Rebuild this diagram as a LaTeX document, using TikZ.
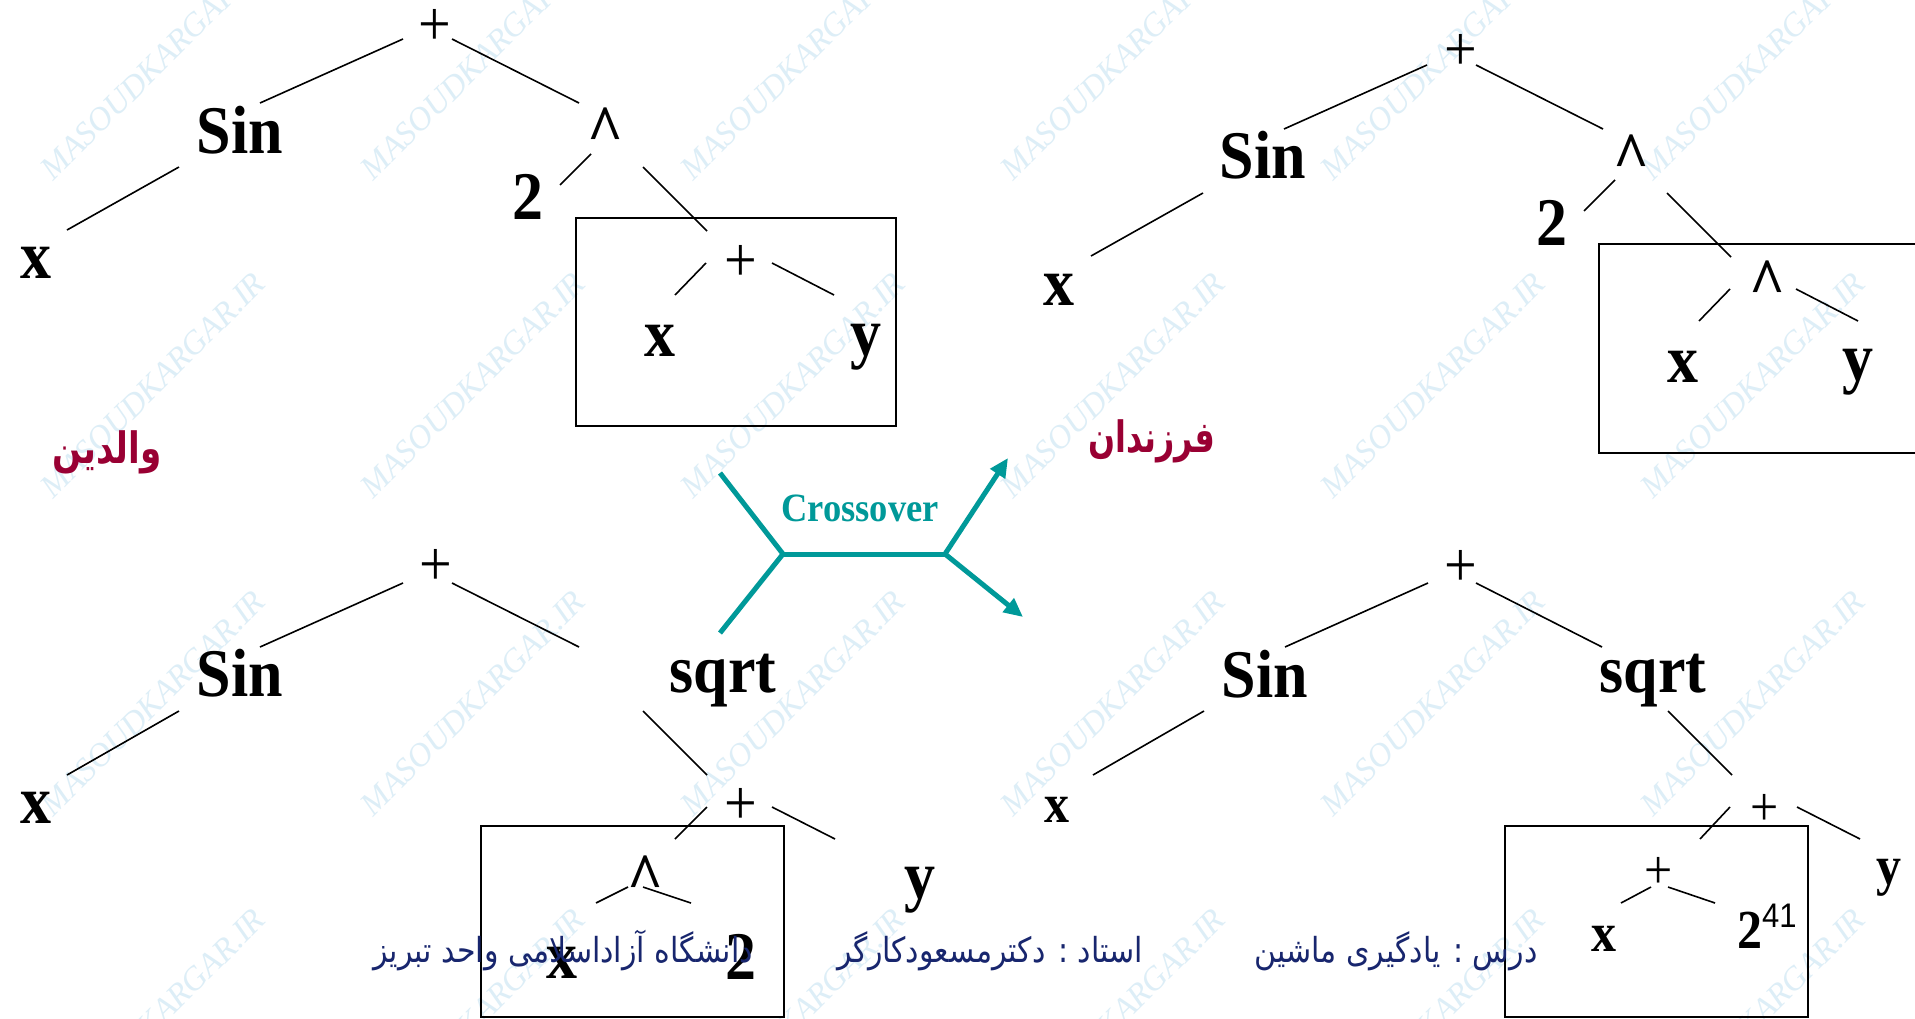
\documentclass[tikz,border=0pt]{standalone}
\usepackage{fontspec}
\usepackage{graphicx}
\setmainfont{Liberation Serif}
\newfontfamily\arabicfont[Script=Arabic]{DejaVu Sans}
\newfontfamily\supfont{Liberation Sans}
\TeXXeTstate=1
\usetikzlibrary{arrows.meta}
\definecolor{crossteal}{RGB}{0,153,153}
\definecolor{labelred}{RGB}{153,0,51}
\definecolor{footblue}{RGB}{24,38,110}
\definecolor{wmblue}{RGB}{221,238,247}
\newcommand\vs[1]{\scalebox{1}[1.1]{#1}}
\newcommand\fsz[1]{\fontsize{#1}{#1}\selectfont}
\newcommand\tedge[4]{\draw[treeedge] ([shift={#2}]#1.center) -- ([shift={#4}]#3.center);}
\tikzset{
  lbl/.style={inner sep=0pt, font=\fsz{62}\bfseries},
  lblsm/.style={inner sep=0pt, font=\fsz{50}\bfseries},
  opp/.style={inner sep=0pt, font=\fsz{58}},
  oppsm/.style={inner sep=0pt, font=\fsz{50}},
  treeedge/.style={line width=1.6pt, black},
  subbox/.style={line width=2.4pt, black},
  cross/.style={line width=5pt, crossteal},
  wm/.style={rotate=45, text=wmblue, font=\fsz{33}\itshape, inner sep=0pt},
  falbl/.style={inner sep=0pt, text=labelred, font=\arabicfont\fsz{36}\bfseries},
  foot/.style={inner sep=0pt, text=footblue, font=\arabicfont\fsz{30}},
}
\begin{document}
\begin{tikzpicture}[x=1pt,y=-1pt]
\useasboundingbox (0,0) rectangle (1915,1018);
\clip (0,0) rectangle (1915,1018);
\fill[white] (0,0) rectangle (1915,1018);
% watermark
\foreach \wx in {153,473,793,1113,1433,1753}{
  \foreach \wy in {67,385,703,1021}{
    \node[wm] (wm-\wx-\wy) at (\wx,\wy) {MASOUDKARGAR.IR};
  }
}
% ---------- Tree A (top left)
\node[opp] (A0) at (435,27) {\vs{+}};
\node[lbl] (A1) at (240,130) {\vs{Sin}};
\node[lbl] (A2) at (36,263) {\vs{x}};
\node[lbl] (A3) at (606,130) {\vs{\textasciicircum}};
\node[lbl] (A4) at (528,197) {\vs{2}};
\node[opp] (A5) at (741,263) {\vs{+}};
\node[lbl] (A6) at (660,341) {\vs{x}};
\node[lbl] (A7) at (866,347) {\vs{y}};
\draw[subbox] (576,218) rectangle (896,426);
\tedge{A0}{(-32,12)}{A1}{(20,-27)}
\tedge{A0}{(17,12)}{A3}{(-27,-27)}
\tedge{A1}{(-61,37)}{A2}{(31,-33)}
\tedge{A3}{(-15,24)}{A4}{(32,-12)}
\tedge{A3}{(37,37)}{A5}{(-34,-32)}
\tedge{A5}{(-35,0)}{A6}{(15,-46)}
\tedge{A5}{(31,0)}{A7}{(-32,-52)}
% ---------- Tree B (top right)
\node[opp] (B0) at (1461,52) {\vs{+}};
\node[lbl] (B1) at (1263,155) {\vs{Sin}};
\node[lbl] (B2) at (1059,290) {\vs{x}};
\node[lbl] (B3) at (1631,157) {\vs{\textasciicircum}};
\node[lbl] (B4) at (1552,223) {\vs{2}};
\node[lbl] (B5) at (1767,283) {\vs{\textasciicircum}};
\node[lbl] (B6) at (1683,367) {\vs{x}};
\node[lbl] (B7) at (1858,372) {\vs{y}};
\draw[subbox] (1599,244) rectangle (1930,453);
\tedge{B0}{(-34,13)}{B1}{(21,-26)}
\tedge{B0}{(15,13)}{B3}{(-28,-28)}
\tedge{B1}{(-60,38)}{B2}{(32,-34)}
\tedge{B3}{(-16,23)}{B4}{(32,-12)}
\tedge{B3}{(36,36)}{B5}{(-36,-26)}
\tedge{B5}{(-37,6)}{B6}{(16,-46)}
\tedge{B5}{(29,6)}{B7}{(0,-51)}
% ---------- Tree C (bottom left)
\node[opp] (C0) at (436,567) {\vs{+}};
\node[lbl] (C1) at (240,673) {\vs{Sin}};
\node[lbl] (C2) at (36,808) {\vs{x}};
\node[lbl] (C3) at (723,681) {\vs{sqrt}};
\node[opp] (C4) at (741,806) {\vs{+}};
\node[lbl] (C5) at (646,878) {\vs{\textasciicircum}};
\node[lbl] (C6) at (562,963) {\vs{x}};
\node[lbl] (C7) at (741,957) {\vs{2}};
\node[lbl] (C8) at (920,890) {\vs{y}};
\draw[subbox] (481,826) rectangle (784,1017);
\tedge{C0}{(-33,16)}{C1}{(20,-26)}
\tedge{C0}{(16,16)}{C3}{(-144,-34)}
\tedge{C1}{(-61,38)}{C2}{(31,-33)}
\tedge{C3}{(-80,30)}{C4}{(-34,-31)}
\tedge{C4}{(-34,1)}{C5}{(29,-39)}
\tedge{C4}{(31,1)}{C8}{(-85,-51)}
\tedge{C5}{(-18,9)}{C6}{(34,-60)}
\tedge{C5}{(-3,9)}{C7}{(-50,-54)}
% ---------- Tree D (bottom right)
\node[opp] (D0) at (1461,568) {\vs{+}};
\node[lbl] (D1) at (1265,674) {\vs{Sin}};
\node[lblsm] (D2) at (1057,810) {\vs{x}};
\node[lbl] (D3) at (1653,681) {\vs{sqrt}};
\node[oppsm] (D4) at (1765,810) {\vs{+}};
\node[oppsm] (D5) at (1659,873) {\vs{+}};
\node[lblsm] (D6) at (1604,939) {\vs{x}};
\node[lblsm, anchor=base west] (D7) at (1737,948) {\vs{2}\raisebox{0.42em}{\supfont\mdseries\fsz{31}\vs{41}}};
\node[lblsm] (D8) at (1889,878) {\vs{y}};
\draw[subbox] (1505,826) rectangle (1808,1017);
\tedge{D0}{(-33,15)}{D1}{(20,-27)}
\tedge{D0}{(15,15)}{D3}{(-51,-34)}
\tedge{D1}{(-61,37)}{D2}{(36,-35)}
\tedge{D3}{(15,30)}{D4}{(-33,-35)}
\tedge{D4}{(-35,-3)}{D5}{(41,-34)}
\tedge{D4}{(32,-3)}{D8}{(-29,-39)}
\tedge{D5}{(-8,14)}{D6}{(17,-36)}
\draw[treeedge] ([shift={(9,14)}]D5.center) -- ([shift={(-22,-45)}]D7.base west);
% ---------- labels
\node[falbl] (parents) at (107,452) {\scalebox{0.95}[1.2]{\beginR والدین\endR}};
\node[falbl] (children) at (1152,441) {\scalebox{0.88}[1.2]{\beginR فرزندان\endR}};
% ---------- crossover
\coordinate (cl1) at (720,473);
\coordinate (cl2) at (720,633);
\coordinate (cj1) at (783,554);
\coordinate (cj2) at (945,554);
\coordinate (ct1) at (1008,458);
\coordinate (ct2) at (1023,617);
\draw[cross] (cl1) -- (cj1) -- (cl2);
\draw[cross] (cj1) -- (cj2);
\draw[cross, -{Triangle[length=19pt,width=17pt]}] (cj2) -- (ct1);
\draw[cross, -{Triangle[length=19pt,width=17pt]}] (cj2) -- (ct2);
\node[inner sep=0pt, text=crossteal, font=\fsz{36.5}\bfseries] (xover) at (860,508) {\vs{Crossover}};
% ---------- footer
\node[foot] (uni) at (563,951) {\scalebox{1}[1.15]{\beginR دانشگاه آزاداسلامی واحد تبریز\endR}};
\node[foot] (prof) at (990,951) {\scalebox{1}[1.15]{\beginR استاد : دکترمسعودکارگر\endR}};
\node[foot] (course) at (1396,951) {\scalebox{1}[1.15]{\beginR درس : یادگیری ماشین\endR}};
\end{tikzpicture}
\end{document}
